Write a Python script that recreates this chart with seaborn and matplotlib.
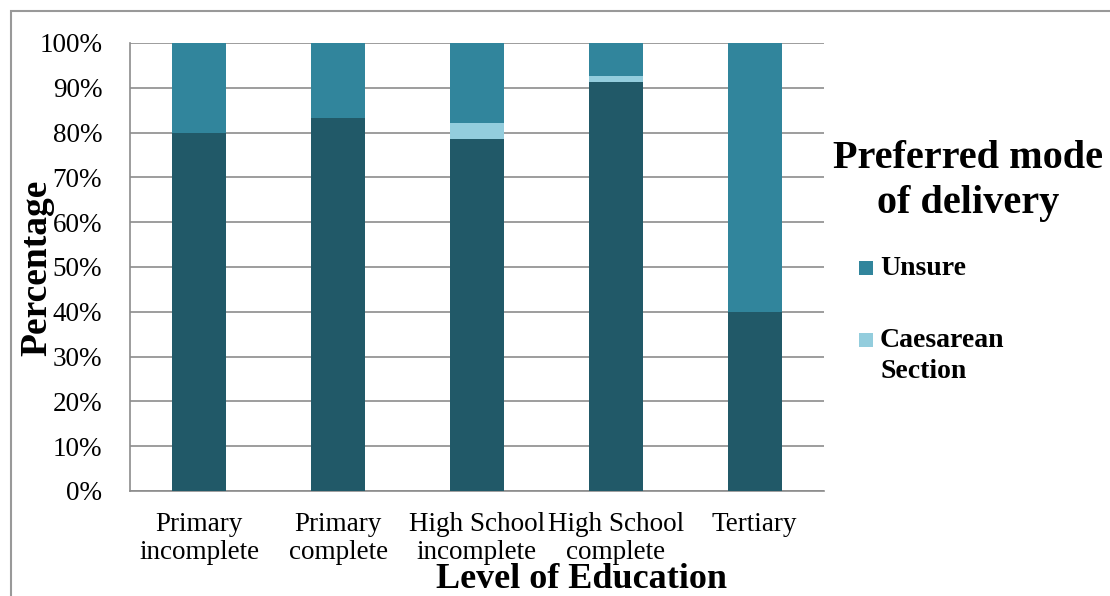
"""Stacked 100% bar chart: preferred mode of delivery by level of education."""

import matplotlib
matplotlib.use("Agg")
import matplotlib.pyplot as plt
import numpy as np
import pandas as pd
import seaborn as sns
from matplotlib.patches import Rectangle
from matplotlib.ticker import FixedLocator, PercentFormatter

categories = [
    "Primary\nincomplete",
    "Primary\ncomplete",
    "High School\nincomplete",
    "High School\ncomplete",
    "Tertiary",
]
# bottom segment (not named in the visible legend), caesarean, unsure (top)
vaginal = [80.0, 83.3, 78.6, 91.2, 40.0]
caesarean = [0.0, 0.0, 3.6, 1.5, 0.0]
unsure = [20.0, 16.7, 17.8, 7.3, 60.0]

dark = "#215968"
teal = "#31859C"
light = "#93CDDD"
grey = "#8c8c8c"

df = pd.DataFrame({"level": categories, "vaginal": vaginal,
                   "caesarean": caesarean, "unsure": unsure})
df["top_caes"] = df["vaginal"] + df["caesarean"]
df["top_unsure"] = df["top_caes"] + df["unsure"]

sns.set_style("white")
plt.rcParams["font.family"] = ["Liberation Serif", "DejaVu Serif"]
plt.rcParams["text.color"] = "black"
plt.rcParams["xtick.labelcolor"] = "black"
plt.rcParams["ytick.labelcolor"] = "black"

fig = plt.figure(figsize=(11.1, 5.96), dpi=100)
ax = fig.add_axes([130 / 1110, 1 - 491 / 596, 694 / 1110, 448 / 596])

for col, color in [("top_unsure", teal), ("top_caes", light), ("vaginal", dark)]:
    sns.barplot(data=df, x="level", y=col, color=color, width=0.39,
                saturation=1, ax=ax, zorder=3, edgecolor="none")

ax.set_ylim(0, 100)
ax.set_xlim(-0.5, len(categories) - 0.5)
ax.set_yticks(np.arange(0, 101, 10))
ax.yaxis.set_major_formatter(PercentFormatter(decimals=0))
ax.grid(axis="y", color=grey, lw=1.2, zorder=0)
ax.set_axisbelow(True)

ax.xaxis.set_minor_locator(FixedLocator(np.arange(-0.5, len(categories), 1.0)))
ax.tick_params(axis="x", which="major", length=0, pad=15, labelsize=19.5)
ax.tick_params(axis="x", which="minor", length=7, color=grey, width=1.2)
ax.tick_params(axis="y", length=8, color=grey, width=1.2, labelsize=19.5, pad=12)
for t in ax.get_xticklabels():
    t.set_linespacing(1.15)

for side in ["top", "right"]:
    ax.spines[side].set_visible(False)
for side in ["left", "bottom"]:
    ax.spines[side].set_color(grey)
    ax.spines[side].set_linewidth(1.2)

ax.set_xlabel("")
ax.set_ylabel("")
fig.text(37 / 1110, 1 - 268 / 596, "Percentage", rotation=90, fontsize=27,
         fontweight="bold", ha="center", va="center")
fig.text(581 / 1110, 1 - 579 / 596, "Level of Education", fontsize=26,
         fontweight="bold", ha="center", va="center")

# legend title and entries, laid out like the original side panel
fig.text(968 / 1110, 1 - 181 / 596, "Preferred mode\nof delivery", fontsize=29,
         fontweight="bold", ha="center", va="center", linespacing=1.3)
legend_items = [("Unsure", teal, 268), ("Caesarean\nSection", light, 340)]
for label, color, ypix in legend_items:
    fig.add_artist(Rectangle((859 / 1110, 1 - (ypix + 7) / 596), 14 / 1110, 14 / 596,
                             transform=fig.transFigure, facecolor=color,
                             edgecolor="none"))
    fig.text(880 / 1110, 1 - (ypix - 12) / 596, label, fontsize=20,
             fontweight="bold", ha="left", va="top", linespacing=1.3)

fig.add_artist(Rectangle((11 / 1110, -0.1), 1.2, 1.1 - 11 / 596,
                         transform=fig.transFigure, fill=False,
                         edgecolor="#999999", lw=1.5))

fig.savefig("out.png", dpi=100)
